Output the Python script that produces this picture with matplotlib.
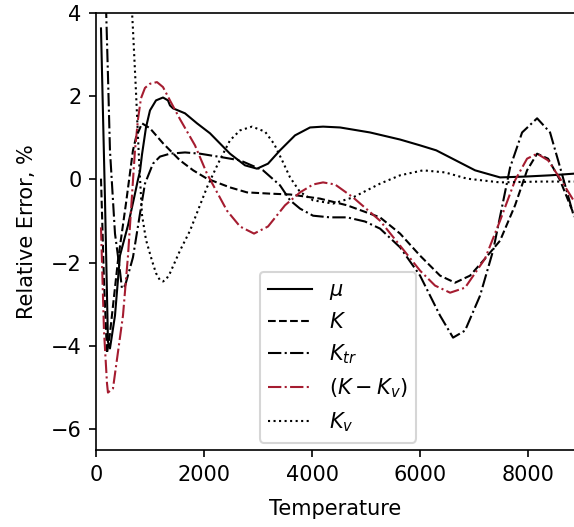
import matplotlib
matplotlib.use("Agg")
import matplotlib.pyplot as plt

# ---- data (Temperature, relative error %) ----
T_mu = [93, 167, 222, 259, 352, 444, 593, 704, 778, 815, 852, 926, 1000, 1111,
        1241, 1333, 1370, 1426, 1648, 1870, 2111, 2300, 2481, 2759, 2981, 3185,
        3407, 3685, 3963, 4204, 4519, 5074, 5630, 6000, 6300, 6555, 7019, 7481,
        7944, 8407, 8850]
mu = [3.63, -0.5, -3.9, -4.06, -3.27, -1.83, -1.1, -0.45, 0.0, 0.2, 0.6, 1.25,
      1.66, 1.9, 1.97, 1.9, 1.78, 1.71, 1.59, 1.35, 1.11, 0.86, 0.62, 0.34, 0.26,
      0.38, 0.70, 1.06, 1.25, 1.27, 1.25, 1.13, 0.96, 0.82, 0.70, 0.53, 0.22,
      0.05, 0.07, 0.10, 0.14]

T_K = [93, 148, 204, 259, 407, 555, 685, 741, 852, 1000, 1241, 1555, 1800, 2055,
       2481, 2796, 3222, 3593, 4148, 4648, 5259, 5630, 6000, 6370, 6648, 6926,
       7204, 7481, 7759, 7981, 8167, 8370, 8593, 8850]
K = [0.02, -2.43, -4.18, -3.7, -1.95, -0.58, 0.70, 1.01, 1.35, 1.23, 0.87, 0.46,
     0.22, 0.02, -0.19, -0.31, -0.34, -0.36, -0.46, -0.62, -0.91, -1.30, -1.83,
     -2.31, -2.48, -2.31, -1.90, -1.47, -0.62, 0.22, 0.62, 0.50, -0.02, -0.85]

T_Ktr = [185, 222, 259, 352, 444, 481, 540, 685, 815, 907, 1055, 1185, 1370, 1648,
         1926, 2352, 2667, 3093, 3407, 3593, 3778, 4019, 4333, 4648, 4981, 5259,
         5630, 6000, 6370, 6611, 6833, 7111, 7352, 7667, 7889, 8167, 8407, 8593,
         8850]
Ktr = [4.2, 2.5, 0.7, -1.3, -2.2, -2.62, -2.55, -1.87, -0.82, -0.1, 0.38, 0.55,
       0.62, 0.65, 0.62, 0.53, 0.46, 0.22, -0.14, -0.50, -0.70, -0.87, -0.91,
       -0.91, -1.01, -1.18, -1.63, -2.31, -3.27, -3.80, -3.63, -2.79, -1.71, 0.29,
       1.13, 1.47, 1.13, 0.29, -0.90]

T_KmKv = [93, 148, 204, 222, 259, 315, 500, 593, 722, 778, 833, 907, 1000, 1130,
          1241, 1370, 1555, 1833, 2055, 2426, 2667, 2926, 3185, 3500, 3778, 4019,
          4204, 4426, 4759, 5259, 5630, 6000, 6278, 6556, 6833, 7204, 7481, 7759,
          7981, 8167, 8370, 8593, 8850]
KmKv = [-1.15, -3.63, -4.9, -5.12, -5.08, -5.02, -3.27, -1.83, 0.70, 1.45, 1.95,
        2.2, 2.3, 2.34, 2.22, 1.90, 1.45, 0.82, 0.14, -0.75, -1.13, -1.30, -1.13,
        -0.62, -0.31, -0.12, -0.07, -0.12, -0.43, -0.99, -1.59, -2.19, -2.55,
        -2.72, -2.60, -1.90, -0.99, -0.02, 0.50, 0.62, 0.46, 0.02, -0.52]

T_Kv = [648, 685, 741, 796, 852, 926, 1037, 1111, 1185, 1241, 1300, 1370, 1555,
        1741, 2055, 2259, 2481, 2667, 2889, 3130, 3300, 3450, 3593, 3778, 4019,
        4389, 4759, 5259, 5630, 6056, 6463, 6870, 7481, 8222, 8850]
Kv = [4.5, 3.6, 2.1, 0.5, -0.85, -1.45, -1.95, -2.25, -2.42, -2.45, -2.4, -2.25,
      -1.71, -1.23, -0.19, 0.38, 0.94, 1.18, 1.27, 1.15, 0.85, 0.45, 0.05, -0.3,
      -0.50, -0.58, -0.43, -0.10, 0.10, 0.22, 0.17, 0.02, -0.07, -0.05, -0.05]

labels = [r"$\mu$", r"$K$", r"$K_{tr}$", r"$(K-K_v)$", r"$K_v$"]
xticks = [0, 2000, 4000, 6000, 8000]
yticks = [-6, -4, -2, 0, 2, 4]

fig = plt.figure(figsize=(574 / 150, 527 / 150), dpi=150)
ax = fig.add_axes([0.1672, 0.1461, 0.8328, 0.8292])

crimson = "#a51c30"
ax.plot(T_mu, mu, color="black", linestyle="-", lw=1, label=labels[0])
ax.plot(T_K, K, color="black", linestyle="--", lw=1, label=labels[1])
ax.plot(T_Ktr, Ktr, color="black", linestyle="-.", lw=1, label=labels[2])
ax.plot(T_KmKv, KmKv, color=crimson, linestyle="-.", lw=1, label=labels[3])
ax.plot(T_Kv, Kv, color="black", linestyle=":", lw=1, label=labels[4])

ax.set_xlim(0, 8850)
ax.set_ylim(-6.5, 4)
ax.set_xticks(xticks)
ax.set_yticks(yticks)
ax.spines["right"].set_visible(False)
ax.set_xlabel("Temperature", labelpad=7)
ax.set_ylabel("Relative Error, %", labelpad=6.4)
ax.legend(loc="lower center", bbox_to_anchor=(0.506, -0.007), handlelength=2.1)

fig.savefig("out.png", dpi=150)
